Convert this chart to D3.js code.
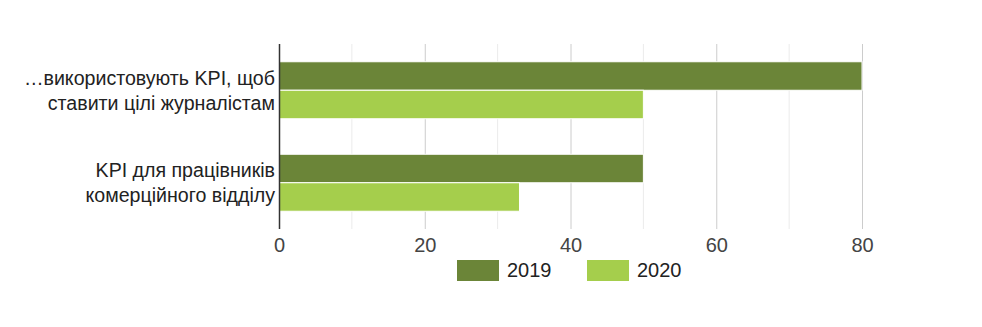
<!DOCTYPE html>
<html>
<head>
<meta charset="utf-8">
<script src="https://cdn.jsdelivr.net/npm/d3@7"></script>
<style>
  html, body { margin: 0; padding: 0; background: #fff; }
  svg { display: block; font-family: "Liberation Sans", Arial, sans-serif; }
</style>
</head>
<body>
<svg id="chart" width="982" height="327"></svg>
<script>
const categories = [
  ["…використовують KPI, щоб", "ставити цілі журналістам"],
  ["KPI для працівників", "комерційного відділу"]
];
const seriesNames = ["2019", "2020"];
const values2019 = [80, 50];
const values2020 = [50, 33];
const xTicks = [0, 20, 40, 60, 80];
const xMinorTicks = [10, 30, 50, 70];
const colors = ["#6b8538", "#a5ce4c"];

const svg = d3.select("#chart");
const plot = { left: 279, right: 862, top: 44, bottom: 229 };

const x = d3.scaleLinear().domain([0, 80]).range([plot.left, plot.right]);
const y0 = d3.scaleBand().domain(d3.range(categories.length))
  .range([plot.top, plot.bottom]).paddingInner(0.384).paddingOuter(0.192);
const y1 = d3.scaleBand().domain(seriesNames).range([0, y0.bandwidth()]).padding(0);

// gridlines
svg.append("g").selectAll("line").data(xMinorTicks).join("line")
  .attr("x1", d => x(d)).attr("x2", d => x(d))
  .attr("y1", plot.top).attr("y2", plot.bottom)
  .attr("stroke", "#ebebeb").attr("stroke-width", 1);
svg.append("g").selectAll("line").data(xTicks.filter(d => d > 0)).join("line")
  .attr("x1", d => x(d) + 0.5).attr("x2", d => x(d) + 0.5)
  .attr("y1", plot.top).attr("y2", plot.bottom)
  .attr("stroke", "#cccccc").attr("stroke-width", 1);

// bars
const data = categories.map((c, i) => ({ i, vals: [values2019[i], values2020[i]] }));
const groups = svg.append("g").selectAll("g").data(data).join("g")
  .attr("transform", d => `translate(0,${y0(d.i)})`);
groups.selectAll("rect").data(d => d.vals.map((v, k) => ({ v, k }))).join("rect")
  .attr("x", x(0))
  .attr("y", d => y1(seriesNames[d.k]))
  .attr("width", d => x(d.v) - x(0))
  .attr("height", y1.bandwidth())
  .attr("fill", d => colors[d.k])
  .attr("stroke", "#ffffff").attr("stroke-width", 1);

// baseline axis
svg.append("line").attr("x1", plot.left + 0.5).attr("x2", plot.left + 0.5)
  .attr("y1", plot.top).attr("y2", plot.bottom)
  .attr("stroke", "#333").attr("stroke-width", 1.5);

// x tick labels
const xAxis = d3.axisBottom(x).tickValues(xTicks).tickSize(0).tickPadding(0);
const gx = svg.append("g").attr("transform", `translate(0,${plot.bottom})`).call(xAxis);
gx.select(".domain").remove();
gx.selectAll("text").attr("dy", null).attr("y", 23)
  .attr("font-size", 20).attr("font-family", "'Liberation Sans Narrow', 'Liberation Sans', Arial, sans-serif")
  .attr("fill", "#444");

// category labels
const lab = svg.append("g").selectAll("text").data(categories).join("text")
  .attr("text-anchor", "end")
  .attr("font-size", 19.6)
  .attr("fill", "#222")
  .attr("transform", (d, i) => `translate(275,${y0(i) + y0.bandwidth() / 2})`);
lab.selectAll("tspan").data(d => d).join("tspan")
  .attr("x", 0).attr("y", (d, k) => k === 0 ? -5.5 : 19.5)
  .text(d => d);

// legend
const legend = svg.append("g").selectAll("g").data(seriesNames).join("g")
  .attr("transform", (d, i) => `translate(${457 + i * 130},260)`);
legend.append("rect").attr("width", 42).attr("height", 21).attr("fill", (d, i) => colors[i]);
legend.append("text").attr("x", 50).attr("y", 17).attr("font-size", 20).attr("fill", "#222").text(d => d);
</script>
</body>
</html>
